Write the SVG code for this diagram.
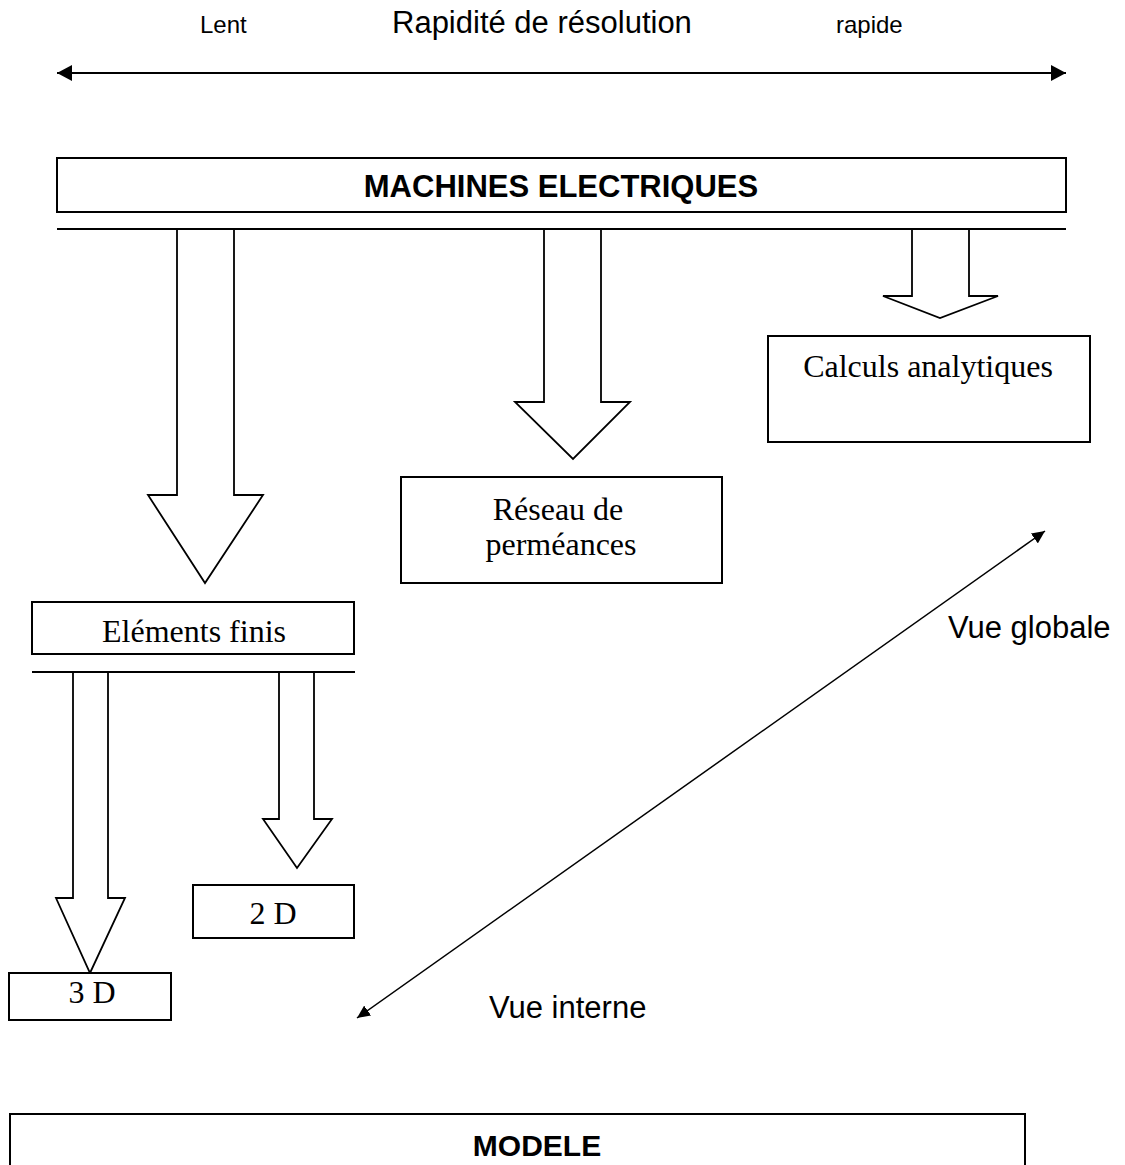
<svg xmlns="http://www.w3.org/2000/svg" width="1125" height="1165" viewBox="0 0 1125 1165">
<style>
.box{fill:#fff;stroke:#000;stroke-width:2}
.barr{fill:#fff;stroke:#000;stroke-width:1.8;stroke-linejoin:miter}
.rule{stroke:#000;stroke-width:1.8}
.sans{font-family:"Liberation Sans",Arial,sans-serif;fill:#000}
.serif{font-family:"Liberation Serif","Times New Roman",serif;fill:#000;font-size:32px;text-anchor:middle}
.conn{stroke:#000;fill:none}
</style>
<defs>
<marker id="ahBig" markerUnits="userSpaceOnUse" markerWidth="16" markerHeight="16" refX="15" refY="8" orient="auto-start-reverse">
<path d="M0,0 L15,8 L0,16 Z" fill="#000"/>
</marker>
<marker id="ahSmall" markerUnits="userSpaceOnUse" markerWidth="14" markerHeight="12" refX="13" refY="6" orient="auto-start-reverse">
<path d="M0,0 L13,6 L0,12 Z" fill="#000"/>
</marker>
</defs>
<rect width="1125" height="1165" fill="#fff"/>

<g id="header">
<text class="sans" x="200" y="33" font-size="24">Lent</text>
<text class="sans" x="392" y="33" font-size="31">Rapidité de résolution</text>
<text class="sans" x="836" y="33" font-size="24">rapide</text>
</g>

<g id="connectors">
<line class="conn" stroke-width="2" x1="57" y1="73" x2="1066" y2="73" marker-start="url(#ahBig)" marker-end="url(#ahBig)"/>
<line class="conn" stroke-width="1.5" x1="357" y1="1018" x2="1045" y2="531" marker-start="url(#ahSmall)" marker-end="url(#ahSmall)"/>
<line class="rule" x1="57" y1="229" x2="1066" y2="229"/>
<line class="rule" x1="32" y1="672" x2="355" y2="672"/>
<polygon class="barr" points="177,229 234,229 234,495 263,495 205,583 148,495 177,495"/>
<polygon class="barr" points="544,229 601,229 601,402 630,402 573,459 515,402 544,402"/>
<polygon class="barr" points="912,229 969,229 969,296 998,296 940,318 883,296 912,296"/>
<polygon class="barr" points="73,672 108,672 108,898 125,898 90,973 56,898 73,898"/>
<polygon class="barr" points="279,672 314,672 314,819 332,819 297,868 263,819 279,819"/>
</g>

<g id="machines">
<rect class="box" x="57" y="158" width="1009" height="54"/>
<text class="sans" x="561" y="197" font-size="31" font-weight="bold" text-anchor="middle">MACHINES ELECTRIQUES</text>
</g>

<g id="calculs">
<rect class="box" x="768" y="336" width="322" height="106"/>
<text class="serif" x="928" y="377">Calculs analytiques</text>
</g>

<g id="reseau">
<rect class="box" x="401" y="477" width="321" height="106"/>
<text class="serif" x="558" y="520">Réseau de</text>
<text class="serif" x="561" y="555">perméances</text>
</g>

<g id="elements">
<rect class="box" x="32" y="602" width="322" height="52"/>
<text class="serif" x="194" y="642">Eléments finis</text>
</g>

<g id="d2">
<rect class="box" x="193" y="885" width="161" height="53"/>
<text class="serif" x="273" y="924">2 D</text>
</g>

<g id="d3">
<rect class="box" x="9" y="973" width="162" height="47"/>
<text class="serif" x="92" y="1003">3 D</text>
</g>

<g id="labels">
<text class="sans" x="948" y="638" font-size="31">Vue globale</text>
<text class="sans" x="489" y="1018" font-size="31">Vue interne</text>
</g>

<g id="modele">
<rect class="box" x="10" y="1114" width="1015" height="70"/>
<text class="sans" x="537" y="1156" font-size="30" font-weight="bold" text-anchor="middle">MODELE</text>
</g>
</svg>
